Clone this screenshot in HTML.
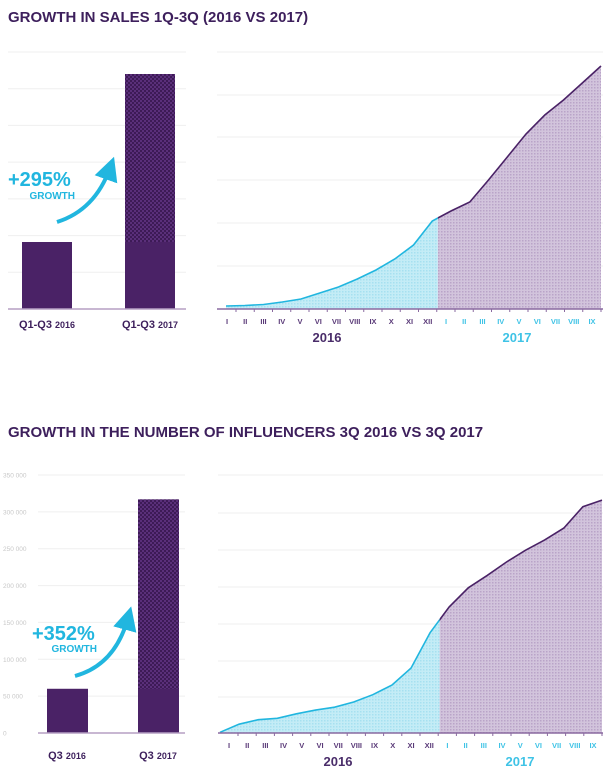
<!DOCTYPE html>
<html><head><meta charset="utf-8">
<style>
body{margin:0;background:#fff;}
svg{display:block;font-family:"Liberation Sans",sans-serif;}
</style></head>
<body>
<svg id="c" width="603" height="770" viewBox="0 0 603 770">
<defs>
<pattern id="pDark" width="4" height="4" patternUnits="userSpaceOnUse">
<rect width="4" height="4" fill="#3d1a56"/><rect width="2" height="2" fill="#5a2f7a"/><rect x="2" y="2" width="2" height="2" fill="#5a2f7a"/>
</pattern>
<pattern id="pCyan" width="3" height="3" patternUnits="userSpaceOnUse">
<rect width="3" height="3" fill="#c4ecf6"/><rect width="1.5" height="1.5" fill="#a6e0f0"/>
</pattern>
<pattern id="pPurple" width="3" height="3" patternUnits="userSpaceOnUse">
<rect width="3" height="3" fill="#d2c4dc"/><rect width="1.5" height="1.5" fill="#b9a4c8"/>
</pattern>
<marker id="ah" markerWidth="6" markerHeight="6" refX="3" refY="3" orient="auto" markerUnits="strokeWidth"><path d="M0,0 L6,3 L0,6 z" fill="#21b6df"/></marker>
</defs>
<text x="8" y="22" font-size="15" font-weight="bold" fill="#3d1f5c">GROWTH IN SALES 1Q-3Q (2016 VS 2017)</text>
<text x="8" y="437" font-size="15" font-weight="bold" fill="#3d1f5c">GROWTH IN THE NUMBER OF INFLUENCERS 3Q 2016 VS 3Q 2017</text>
<g id="g1"></g><g id="g2"></g><g id="g3"></g><g id="g4"></g>
</svg>
<script>
// ---- data ----
const salesBarCats = ["Q1-Q3", "Q1-Q3"];
const salesBarYears = ["2016", "2017"];
const salesBarValues = [67, 235];
const salesMonths2016 = ["I","II","III","IV","V","VI","VII","VIII","IX","X","XI","XII"];
const salesMonths2017 = ["I","II","III","IV","V","VI","VII","VIII","IX"];
const salesLineValues = [3,3.5,4.5,7,10,16,22,30,39,50,64,88,98,107,129,152,175,194,209,226,243];
const inflBarYears = ["2016","2017"];
const inflBarValues = [60000, 317000];
const inflTicks = [0,50000,100000,150000,200000,250000,300000,350000];
const inflTickLabels = ["0","50 000","100 000","150 000","200 000","250 000","300 000","350 000"];
const inflLineValues = [1000,12000,18000,20000,26000,31000,35000,42000,52000,65000,88000,136000,171000,197000,214000,232000,248000,262000,278000,307000,316000];

const NS="http://www.w3.org/2000/svg";
function mk(parent,tag,attrs,text){const e=document.createElementNS(NS,tag);for(const k in attrs)e.setAttribute(k,attrs[k]);if(text!==undefined)e.textContent=text;parent.appendChild(e);return e;}
const PURPLE="#4a2266", CYAN="#21b6df";

// ---- Chart 1: sales bars ----
(function(){
 const g=document.getElementById('g1');
 const base=309, top=52, maxV=257;
 const y=v=>base-(v/maxV)*(base-top);
 for(let i=0;i<7;i++){const gy=top+i*(base-top)/7;
  const l=mk(g,'line',{x1:8,x2:186,y1:gy,y2:gy,stroke:'#efefef','stroke-width':1});
  }
 const bx=[22,125];
 salesBarValues.forEach((v,i)=>{
  const r=mk(g,'rect',{x:bx[i],y:y(v),width:50,height:base-y(v),fill:i?'url(#pDark)':PURPLE});
  
  if(i){const s=mk(g,'rect',{x:bx[i],y:y(salesBarValues[0]),width:50,height:base-y(salesBarValues[0]),fill:PURPLE});
   }
  const t=mk(g,'text',{x:bx[i]+25,y:328,'text-anchor':'middle','font-size':11,'font-weight':'bold',fill:'#3d1f5c'});
  
  mk(t,'tspan',{},salesBarCats[i]+' ');mk(t,'tspan',{'font-size':9},salesBarYears[i]);
 });
 const ax=mk(g,'line',{x1:8,x2:186,y1:base,y2:base,stroke:'#b59fc4','stroke-width':1.5});
 
 const a=mk(g,'path',{d:'M57,222 Q95,210 110,168',fill:'none',stroke:CYAN,'stroke-width':4,'marker-end':'url(#ah)'});
 
 const p=mk(g,'text',{x:8,y:186,'font-size':20,'font-weight':'bold',fill:CYAN},'+295%');
 
 const gw=mk(g,'text',{x:75,y:199,'text-anchor':'end','font-size':10,'font-weight':'bold',fill:CYAN},'GROWTH');
 
})();

// ---- line chart helper ----
function lineChart(g,opt,vals,name){
 const n=vals.length;
 const x=i=>opt.x0+i*(opt.x1-opt.x0)/(n-1);
 const y=v=>opt.base-(v/opt.maxV)*(opt.base-opt.top);
 opt.grid.forEach(gy=>{const l=mk(g,'line',{x1:opt.gx0,x2:603,y1:gy,y2:gy,stroke:'#efefef','stroke-width':1});
  });
 const pts=vals.map((v,i)=>[x(i),y(v)]);
 const bx=x(opt.split);
 const clipA=mk(g,'clipPath',{id:name+'cA'});mk(clipA,'rect',{x:0,y:0,width:bx,height:770});
 const clipB=mk(g,'clipPath',{id:name+'cB'});mk(clipB,'rect',{x:bx,y:0,width:603-bx,height:770});
 const line='M'+pts.map(p=>p[0].toFixed(1)+','+p[1].toFixed(1)).join('L');
 const area=line+'L'+x(n-1)+','+opt.base+'L'+x(0)+','+opt.base+'Z';
 const a1=mk(g,'path',{d:area,fill:'url(#pCyan)','clip-path':'url(#'+name+'cA)'});
 
 const a2=mk(g,'path',{d:area,fill:'url(#pPurple)','clip-path':'url(#'+name+'cB)'});
 
 const l1=mk(g,'path',{d:line,fill:'none',stroke:CYAN,'stroke-width':1.6,'clip-path':'url(#'+name+'cA)'});
 
 const l2=mk(g,'path',{d:line,fill:'none',stroke:PURPLE,'stroke-width':1.6,'clip-path':'url(#'+name+'cB)'});
 
 const ax=mk(g,'line',{x1:opt.gx0,x2:603,y1:opt.base,y2:opt.base,stroke:'#8a6aa0','stroke-width':1.5});
 
 const labs=salesMonths2016.concat(salesMonths2017);
 labs.forEach((m,i)=>{const lx=opt.l0+i*(opt.l1-opt.l0)/20;
  const tk=mk(g,'line',{x1:lx+opt.tickOff,x2:lx+opt.tickOff,y1:opt.base,y2:opt.base+3,stroke:'#8a6aa0','stroke-width':1});
  
  const t=mk(g,'text',{x:lx,y:opt.base+15,'text-anchor':'middle','font-size':7.5,'font-weight':'bold',fill:i<12?'#5a3a78':'#3fc3e6'},m);
  });
 const y1=mk(g,'text',{x:opt.yr0,y:opt.base+33,'text-anchor':'middle','font-size':13,'font-weight':'bold',fill:'#4a2d6a'},'2016');
 
 const y2=mk(g,'text',{x:opt.yr1,y:opt.base+33,'text-anchor':'middle','font-size':13,'font-weight':'bold',fill:'#3fc3e6'},'2017');
 
}
lineChart(document.getElementById('g2'),{x0:226,x1:601,base:309,top:52,maxV:257,split:11.3,gx0:217,
 grid:[52,95,137,180,223,266],l0:227,l1:592,tickOff:9,yr0:327,yr1:517},salesLineValues,'sales-line');

// ---- Chart 3: influencer bars ----
(function(){
 const g=document.getElementById('g3');
 const base=733, top=475, maxV=350000;
 const y=v=>base-(v/maxV)*(base-top);
 inflTicks.forEach((v,i)=>{
  if(v>0){const l=mk(g,'line',{x1:38,x2:185,y1:y(v),y2:y(v),stroke:'#efefef','stroke-width':1});
   }
  const t=mk(g,'text',{x:3,y:y(v)+2.5,'font-size':6.5,fill:'#c8c8c8'},inflTickLabels[i]);
  
 });
 const bx=[47,138];
 inflBarValues.forEach((v,i)=>{
  const r=mk(g,'rect',{x:bx[i],y:y(v),width:41,height:base-y(v),fill:i?'url(#pDark)':PURPLE});
  
  if(i){const s=mk(g,'rect',{x:bx[i],y:y(inflBarValues[0]),width:41,height:base-y(inflBarValues[0]),fill:PURPLE});
   }
  const t=mk(g,'text',{x:bx[i]+20,y:759,'text-anchor':'middle','font-size':11,'font-weight':'bold',fill:'#3d1f5c'});
  
  mk(t,'tspan',{},'Q3 ');mk(t,'tspan',{'font-size':9},inflBarYears[i]);
 });
 const ax=mk(g,'line',{x1:38,x2:185,y1:base,y2:base,stroke:'#b59fc4','stroke-width':1.5});
 
 const a=mk(g,'path',{d:'M75,676 Q115,665 128,618',fill:'none',stroke:CYAN,'stroke-width':4,'marker-end':'url(#ah)'});
 
 const p=mk(g,'text',{x:32,y:640,'font-size':20,'font-weight':'bold',fill:CYAN},'+352%');
 
 const gw=mk(g,'text',{x:97,y:652,'text-anchor':'end','font-size':10,'font-weight':'bold',fill:CYAN},'GROWTH');
 
})();
lineChart(document.getElementById('g4'),{x0:220,x1:602,base:733,top:475,maxV:350000,split:11.5,gx0:218,
 grid:[475,513,550,587,624,661,697],l0:229,l1:593,tickOff:9,yr0:338,yr1:520},inflLineValues,'infl-line');
</script>
</body></html>
